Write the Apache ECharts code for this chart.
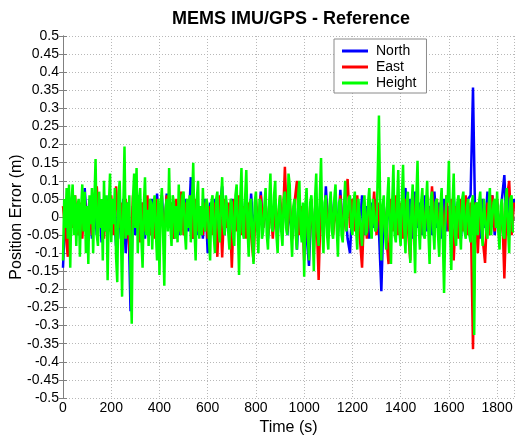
<!DOCTYPE html>
<html>
<head>
<meta charset="utf-8">
<title>MEMS IMU/GPS - Reference</title>
<script src="https://cdn.jsdelivr.net/npm/echarts@6/dist/echarts.min.js"></script>
<style>
  html, body { margin: 0; padding: 0; background: #fff; }
  #chart { width: 515px; height: 437px; }
</style>
</head>
<body>
<div id="chart"></div>
<script>
// Sampling steps of the logged position errors (seconds)
const NE_STEP = 10;      // north / east channels
const HEIGHT_STEP = 5;   // height channel

// North position error (m)
const north = [
  -0.14, 0.03, -0.06, 0.05, -0.03, 0.04, -0.05, 0.02, -0.04, 0.08,
  -0.03, 0.05, -0.06, 0.04, -0.05, 0.03, -0.07, 0.05, -0.04, 0.06,
  -0.05, 0.04, -0.08, 0.05, -0.06, 0.05, -0.10, 0.04, -0.26, 0.03,
  -0.05, 0.06, -0.03, 0.04, -0.06, 0.03, -0.04, 0.05, -0.03, 0.065,
  -0.04, 0.06, -0.05, 0.065, -0.03, 0.04, -0.06, 0.03, -0.05, 0.04,
  -0.03, 0.05, -0.04, 0.11, -0.06, 0.04, -0.05, 0.03, -0.06, 0.05,
  -0.10, 0.04, -0.03, 0.05, -0.04, 0.03, 0.085, -0.05, 0.04, -0.06,
  0.05, -0.04, 0.03, -0.05, 0.06, -0.03, 0.04, -0.06, 0.065, -0.04,
  0.03, -0.05, 0.07, -0.03, 0.04, -0.06, 0.05, -0.04, 0.03, -0.05,
  0.04, -0.03, 0.06, -0.05, 0.03, -0.06, 0.04, -0.09, 0.05, -0.04,
  0.03, -0.05, -0.135, 0.04, -0.06, 0.05, -0.03, 0.04, -0.05, 0.085,
  -0.04, 0.05, -0.03, 0.06, -0.05, 0.075, -0.04, 0.03, -0.06, -0.10,
  0.04, -0.03, 0.05, -0.04, 0.06, -0.05, 0.03, -0.06, 0.04, -0.03,
  0.05, -0.04, -0.205, 0.03, -0.06, 0.05, -0.04, 0.065, -0.03, 0.04,
  -0.05, 0.03, 0.08, -0.04, 0.05, -0.06, 0.07, -0.03, 0.04, -0.05,
  0.06, -0.04, 0.03, -0.05, 0.07, -0.03, 0.04, -0.06, 0.05, -0.04,
  0.03, -0.05, 0.06, -0.04, 0.05, -0.06, 0.04, -0.03, 0.05, 0.06,
  0.358, -0.05, 0.04, -0.06, 0.05, -0.03, 0.07, -0.04, 0.06, -0.05,
  0.04, -0.06, 0.05, 0.116, -0.04, 0.06, -0.03, 0.05
];

// East position error (m)
const east = [
  0.03, -0.04, -0.11, 0.05, -0.03, 0.06, -0.05, 0.04, -0.06, 0.05,
  -0.04, 0.03, -0.05, 0.06, 0.085, -0.03, 0.04, -0.06, 0.05, -0.04,
  0.06, -0.05, 0.085, -0.03, 0.04, -0.06, 0.05, -0.04, -0.12, 0.06,
  -0.03, 0.05, -0.07, 0.04, -0.04, 0.06, -0.05, 0.03, -0.06, 0.05,
  -0.04, 0.03, -0.05, 0.06, -0.03, 0.04, -0.06, 0.05, -0.04, 0.07,
  -0.05, 0.04, -0.03, 0.06, -0.06, 0.05, -0.04, 0.03, -0.05, 0.04,
  -0.06, 0.03, -0.05, 0.04, -0.11, 0.06, -0.112, 0.05, -0.03, 0.04,
  -0.14, 0.05, -0.04, 0.06, -0.05, 0.03, -0.06, 0.04, -0.05, -0.123,
  0.05, -0.04, 0.06, -0.03, 0.04, -0.05, 0.03, -0.06, 0.05, -0.04,
  0.06, -0.05, 0.139, -0.04, 0.05, -0.06, 0.04, 0.10, -0.05, 0.03,
  -0.12, 0.04, -0.06, 0.05, -0.10, 0.03, -0.174, 0.06, -0.04, 0.05,
  -0.06, 0.04, -0.05, 0.03, -0.04, 0.06, -0.05, 0.04, 0.105, -0.03,
  0.05, -0.04, 0.06, -0.05, -0.14, 0.04, -0.06, 0.05, -0.03, 0.07,
  -0.05, 0.04, -0.06, 0.03, -0.05, -0.13, 0.05, -0.04, 0.06, -0.05,
  0.04, -0.06, 0.05, -0.03, -0.12, 0.07, -0.05, 0.04, -0.06, 0.05,
  -0.04, 0.06, -0.05, 0.085, -0.03, 0.05, -0.06, 0.04, -0.05, 0.06,
  -0.04, 0.05, -0.12, 0.03, -0.06, 0.05, -0.04, 0.06, -0.05, 0.04,
  -0.365, 0.04, -0.10, 0.05, -0.06, -0.127, 0.04, -0.05, 0.06, -0.04,
  0.05, -0.06, 0.04, -0.17, 0.05, 0.10, -0.05, 0.04
];

// Height position error (m)
const height = [
  -0.12, 0.05, -0.03, 0.08, -0.06, 0.09, -0.14, 0.04, 0.09, -0.05, 0.06, -0.08, 0.03, 0.05, -0.11, 0.02, 0.09, -0.04, 0.07, -0.10,
  0.03, -0.13, 0.06, -0.02, 0.08, -0.10, 0.04, 0.16, -0.05, -0.08, 0.07, -0.03, 0.05, -0.12, 0.10, -0.04, 0.06, -0.175, 0.03, 0.12,
  -0.07, 0.05, -0.02, 0.08, -0.11, -0.18, 0.06, 0.10, -0.04, -0.22, 0.02, 0.195, -0.06, 0.04, -0.05, 0.06, -0.15, -0.295, 0.05, 0.12,
  -0.03, 0.135, -0.10, 0.04, 0.08, -0.06, -0.14, 0.03, 0.11, -0.05, 0.02, -0.08, 0.05, 0.04, -0.09, 0.03, 0.06, -0.04, -0.12, 0.05,
  -0.16, 0.03, 0.08, -0.05, -0.19, 0.02, 0.05, -0.04, 0.135, -0.02, -0.08, 0.06, 0.04, -0.06, 0.03, -0.07, 0.09, -0.03, -0.05, 0.06,
  0.07, -0.04, -0.09, 0.05, -0.03, 0.06, -0.07, 0.04, 0.15, -0.03, -0.12, 0.05, 0.10, -0.06, 0.03, -0.05, 0.08, -0.02, -0.04, 0.05,
  0.03, -0.06, -0.12, 0.04, 0.06, -0.05, -0.10, 0.05, 0.07, -0.03, -0.07, 0.04, 0.11, -0.02, -0.05, 0.06, 0.03, -0.04, -0.09, 0.05,
  0.04, -0.05, -0.08, 0.06, 0.09, -0.03, -0.16, 0.05, 0.135, -0.04, -0.06, 0.05, 0.13, -0.03, -0.11, 0.04, 0.05, -0.06, -0.13, 0.04,
  0.07, -0.03, -0.10, 0.05, 0.04, -0.06, -0.04, 0.03, 0.08, -0.05, -0.09, 0.04, 0.12, -0.03, -0.04, 0.06, 0.10, -0.05, -0.10, 0.03,
  0.06, -0.04, -0.08, 0.05, 0.07, -0.03, -0.05, 0.12, 0.09, -0.04, -0.11, 0.03, 0.05, -0.05, -0.09, 0.06, 0.10, -0.03, -0.07, 0.04,
  -0.165, 0.03, 0.08, -0.05, -0.12, 0.04, 0.06, -0.03, -0.15, 0.05, 0.12, -0.04, -0.08, 0.06, 0.163, -0.03, -0.10, 0.04, 0.06, -0.05,
  -0.09, 0.03, 0.07, -0.04, -0.06, 0.05, 0.09, -0.03, -0.11, 0.04, 0.05, -0.05, -0.07, 0.03, 0.10, -0.04, -0.04, 0.05, 0.06, -0.03,
  -0.05, 0.04, 0.07, -0.03, -0.09, 0.05, 0.05, -0.04, -0.08, 0.03, 0.06, -0.05, -0.04, 0.04, 0.08, -0.03, -0.06, 0.05, 0.05, -0.04,
  -0.03, 0.12, 0.28, 0.04, -0.12, 0.03, 0.06, -0.04, -0.09, 0.05, 0.11, -0.03, -0.13, 0.04, 0.144, -0.05, -0.07, 0.03, 0.13, -0.04,
  -0.08, 0.05, 0.144, -0.03, -0.10, 0.04, 0.07, -0.05, -0.127, 0.03, 0.09, -0.04, -0.155, 0.05, 0.155, -0.03, -0.09, 0.04, 0.08, -0.05,
  -0.06, 0.03, 0.10, -0.04, -0.13, 0.05, 0.07, -0.03, -0.09, 0.04, 0.05, -0.05, -0.11, 0.03, 0.08, -0.06, -0.21, -0.03, 0.06, 0.04,
  0.155, -0.04, -0.146, 0.03, 0.12, -0.05, -0.08, 0.04, 0.06, -0.03, -0.09, 0.05, 0.07, -0.04, -0.06, 0.03, 0.05, -0.05, -0.07, 0.04,
  0.06, -0.326, 0.03, 0.04, -0.05, 0.04, 0.07, -0.03, -0.08, 0.05, 0.05, -0.04, -0.06, 0.03, 0.08, -0.05, -0.05, 0.04, 0.05, -0.03,
  0.07, -0.04, -0.09, 0.03, 0.05, -0.05, -0.06, 0.04, 0.08, -0.03, -0.10, 0.05, 0.06, -0.04, -0.04
];

// Axis settings
const X_MIN = 0, X_MAX = 1870, X_STEP = 200;
const Y_MIN = -0.5, Y_MAX = 0.5, Y_STEP = 0.05;

const toPairs = (arr, step) => arr.map((v, i) => [i * step, v]);

const FONT = '"Liberation Sans", Arial, Helvetica, sans-serif';
const AXIS_GREY = '#808080';
const GRID_GREY = '#b8b8b8';

const fmtY = v => String(+v.toFixed(2));
const fmtX = v => String(v);

const chart = echarts.init(document.getElementById('chart'), null, { renderer: 'canvas' });

const baseX = { type: 'value', min: X_MIN, max: X_MAX, interval: X_STEP };
const baseY = { type: 'value', min: Y_MIN, max: Y_MAX, interval: Y_STEP };
const frameLine = { show: true, lineStyle: { color: AXIS_GREY, width: 1 } };
const inTick = { show: true, inside: true, length: 4, lineStyle: { color: AXIS_GREY } };
const dotted = { show: true, lineStyle: { color: GRID_GREY, type: [1, 2], width: 1 } };

chart.setOption({
  animation: false,
  backgroundColor: '#ffffff',
  title: {
    text: 'MEMS IMU/GPS - Reference',
    left: 172,
    top: 10,
    padding: 0,
    textStyle: { fontFamily: FONT, fontSize: 18, fontWeight: 'bold', color: '#000' }
  },
  legend: {
    orient: 'vertical',
    left: 334,
    top: 39,
    padding: [5, 10, 3, 8],
    itemGap: 2,
    itemWidth: 26,
    itemHeight: 3,
    icon: 'rect',
    backgroundColor: '#ffffff',
    borderColor: '#8a8a8a',
    borderWidth: 1,
    borderRadius: 0,
    textStyle: { fontFamily: FONT, fontSize: 14, color: '#000', lineHeight: 14, padding: [0, 0, 0, 3] },
    data: ['North', 'East', 'Height']
  },
  grid: { left: 63, right: 1, top: 36, bottom: 39, containLabel: false, outerBoundsMode: 'none' },
  xAxis: [
    Object.assign({}, baseX, {
      position: 'bottom',
      name: 'Time (s)',
      nameLocation: 'middle',
      nameGap: 22,
      nameMoveOverlap: false,
      nameTextStyle: { fontFamily: FONT, fontSize: 16, color: '#000' },
      axisLine: frameLine,
      axisTick: inTick,
      axisLabel: { fontFamily: FONT, fontSize: 14, color: '#000', margin: 3, showMaxLabel: false, formatter: fmtX },
      splitLine: dotted
    }),
    Object.assign({}, baseX, {
      position: 'top',
      axisLine: frameLine,
      axisTick: inTick,
      axisLabel: { show: false },
      splitLine: { show: false }
    })
  ],
  yAxis: [
    Object.assign({}, baseY, {
      position: 'left',
      name: 'Position Error (m)',
      nameLocation: 'middle',
      nameGap: 38,
      nameMoveOverlap: false,
      nameTextStyle: { fontFamily: FONT, fontSize: 16, color: '#000' },
      axisLine: frameLine,
      axisTick: inTick,
      axisLabel: { fontFamily: FONT, fontSize: 14, color: '#000', margin: 4, formatter: fmtY },
      splitLine: dotted
    }),
    Object.assign({}, baseY, {
      position: 'right',
      axisLine: frameLine,
      axisTick: inTick,
      axisLabel: { show: false },
      splitLine: { show: false }
    })
  ],
  series: [
    {
      name: 'North', type: 'line', data: toPairs(north, NE_STEP),
      showSymbol: false, symbol: 'none',
      lineStyle: { color: '#0000ff', width: 2.5 }, itemStyle: { color: '#0000ff' }
    },
    {
      name: 'East', type: 'line', data: toPairs(east, NE_STEP),
      showSymbol: false, symbol: 'none',
      lineStyle: { color: '#ff0000', width: 2.5 }, itemStyle: { color: '#ff0000' }
    },
    {
      name: 'Height', type: 'line', data: toPairs(height, HEIGHT_STEP),
      showSymbol: false, symbol: 'none',
      lineStyle: { color: '#00ff00', width: 2.5 }, itemStyle: { color: '#00ff00' }
    }
  ]
});
</script>
</body>
</html>
